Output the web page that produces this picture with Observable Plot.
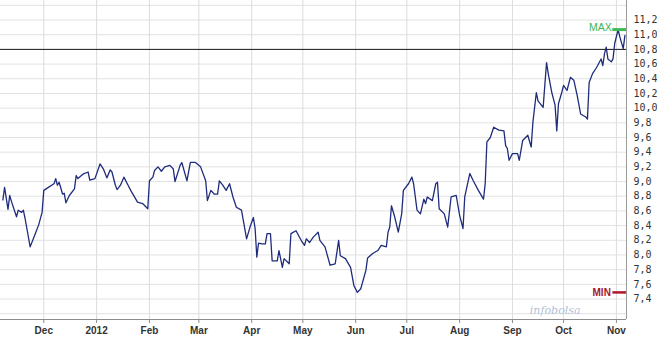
<!DOCTYPE html>
<html>
<head>
<meta charset="utf-8">
<script src="https://cdn.jsdelivr.net/npm/d3@7"></script>
<script src="https://cdn.jsdelivr.net/npm/@observablehq/plot@0.6"></script>
<style>
  html, body { margin: 0; padding: 0; background: #fff; }
  #chart svg { display: block; }
</style>
</head>
<body>
<div id="chart"></div>
<script>
// ---- data ----
const dates = [
  "2011-11-07","2011-11-08","2011-11-10","2011-11-11","2011-11-12","2011-11-15","2011-11-16","2011-11-18","2011-11-19","2011-11-20",
  "2011-11-23","2011-11-26","2011-11-28","2011-11-30","2011-12-01","2011-12-03","2011-12-07","2011-12-08","2011-12-09","2011-12-10",
  "2011-12-12","2011-12-13","2011-12-14","2011-12-16","2011-12-19","2011-12-20","2011-12-21","2011-12-24","2011-12-27","2011-12-28",
  "2011-12-31","2012-01-03","2012-01-05","2012-01-07","2012-01-09","2012-01-10","2012-01-12","2012-01-13","2012-01-15","2012-01-17",
  "2012-01-19","2012-01-21","2012-01-25","2012-01-28","2012-01-31","2012-02-01","2012-02-03","2012-02-04","2012-02-06","2012-02-08",
  "2012-02-10","2012-02-13","2012-02-15","2012-02-16","2012-02-19","2012-02-20","2012-02-23","2012-02-25","2012-02-28","2012-03-02",
  "2012-03-05","2012-03-06","2012-03-08","2012-03-10","2012-03-12","2012-03-13","2012-03-15","2012-03-17","2012-03-19","2012-03-21",
  "2012-03-23","2012-03-26","2012-03-29","2012-03-31","2012-04-02","2012-04-03","2012-04-04","2012-04-05","2012-04-07","2012-04-09",
  "2012-04-10","2012-04-12","2012-04-13","2012-04-16","2012-04-17","2012-04-19","2012-04-20","2012-04-23","2012-04-24","2012-04-27",
  "2012-04-30","2012-05-02","2012-05-03","2012-05-05","2012-05-07","2012-05-10","2012-05-11","2012-05-14","2012-05-17","2012-05-20",
  "2012-05-22","2012-05-23","2012-05-26","2012-05-29","2012-05-31","2012-06-02","2012-06-04","2012-06-07","2012-06-08","2012-06-11",
  "2012-06-14","2012-06-16","2012-06-19","2012-06-20","2012-06-21","2012-06-22","2012-06-24","2012-06-26","2012-06-28","2012-06-29",
  "2012-07-02","2012-07-04","2012-07-05","2012-07-07","2012-07-09","2012-07-11","2012-07-12","2012-07-13","2012-07-16","2012-07-18",
  "2012-07-19","2012-07-20","2012-07-23","2012-07-25","2012-07-27","2012-07-30","2012-08-01","2012-08-03","2012-08-04","2012-08-07",
  "2012-08-09","2012-08-12","2012-08-15","2012-08-16","2012-08-17","2012-08-19","2012-08-21","2012-08-24","2012-08-27","2012-08-28",
  "2012-08-29","2012-08-30","2012-09-01","2012-09-04","2012-09-05","2012-09-07","2012-09-10","2012-09-12","2012-09-13","2012-09-15",
  "2012-09-16","2012-09-19","2012-09-21","2012-09-22","2012-09-24","2012-09-26","2012-09-27","2012-09-28","2012-09-30","2012-10-01",
  "2012-10-03","2012-10-05","2012-10-07","2012-10-09","2012-10-11","2012-10-14","2012-10-15","2012-10-16","2012-10-18","2012-10-20",
  "2012-10-21","2012-10-23","2012-10-24","2012-10-25","2012-10-26","2012-10-27","2012-10-29","2012-10-30","2012-10-31","2012-11-02",
  "2012-11-03","2012-11-05","2012-11-06"
];
const prices = [
  8.75,8.92,8.62,8.81,8.73,8.52,8.61,8.58,8.61,8.50,
  8.11,8.29,8.41,8.58,8.88,8.91,8.97,9.04,8.95,8.99,
  8.83,8.84,8.71,8.81,8.90,9.08,9.04,9.10,9.13,9.02,
  9.04,9.24,9.17,9.05,9.16,9.13,8.95,8.89,8.95,9.06,
  8.97,8.88,8.72,8.70,8.63,9.01,9.06,9.15,9.20,9.14,
  9.20,9.22,9.17,9.00,9.22,9.26,9.01,9.26,9.26,9.20,
  9.01,8.74,8.88,8.83,8.83,9.01,8.95,8.88,8.97,8.79,
  8.65,8.61,8.22,8.38,8.51,8.36,7.97,8.16,8.15,8.15,
  8.29,8.29,7.92,7.92,8.06,7.83,7.95,7.88,8.29,8.33,
  8.20,8.13,8.22,8.17,8.24,8.31,8.20,8.11,7.86,7.88,
  8.20,7.99,7.95,7.83,7.58,7.49,7.54,7.79,7.96,8.02,
  8.06,8.13,8.11,8.31,8.38,8.67,8.51,8.31,8.56,8.88,
  8.97,9.06,8.97,8.61,8.56,8.76,8.70,8.79,8.74,8.97,
  8.99,8.63,8.56,8.38,8.79,8.81,8.54,8.36,8.79,9.11,
  9.01,8.88,8.76,8.97,9.54,9.60,9.74,9.70,9.69,9.49,
  9.45,9.29,9.38,9.38,9.29,9.56,9.63,9.47,9.81,10.21,
  10.10,10.01,10.62,10.47,10.22,10.04,9.69,10.06,10.22,10.31,
  10.24,10.42,10.38,10.17,9.92,9.88,9.85,10.35,10.47,10.54,
  10.58,10.67,10.58,10.74,10.83,10.67,10.63,10.67,10.88,11.07,
  10.97,10.81,10.99
];
const referenceLevel = [10.8];
const monthStarts = ["2011-12-01","2012-01-01","2012-02-01","2012-03-01","2012-04-01","2012-05-01",
                     "2012-06-01","2012-07-01","2012-08-01","2012-09-01","2012-10-01","2012-11-01"];
const monthLabels = ["Dec","2012","Feb","Mar","Apr","May","Jun","Jul","Aug","Sep","Oct","Nov"];
const yLabelTicks = [7.4,7.6,7.8,8.0,8.2,8.4,8.6,8.8,9.0,9.2,9.4,9.6,9.8,10.0,10.2,10.4,10.6,10.8,11.0,11.2];
const yGridTicks = [7.2,7.4,7.6,7.8,8.0,8.2,8.4,8.6,8.8,9.0,9.2,9.4,9.6,9.8,10.0,10.2,10.4,10.6,10.8,11.0,11.2,11.4];
const xDomain = [new Date(Date.UTC(2011, 10, 5, 14, 24)), new Date(Date.UTC(2012, 10, 6, 22, 0))];
const yDomain = [7.121, 11.466];
const watermark = ["infobolsa"];

// ---- build ----
const series = dates.map((d, i) => ({date: new Date(d), value: prices[i]}));
const ticks = monthStarts.map(d => new Date(d));
const labelFor = new Map(ticks.map((t, i) => [+t, monthLabels[i]]));
const maxVal = d3.max(prices);
const minVal = d3.min(prices);
const markerStart = d3.utcDay.offset(xDomain[1], -8);
const comma = d => d.toFixed(1).replace(".", ",");

const chart = Plot.plot({
  width: 657,
  height: 344,
  marginTop: 0,
  marginBottom: 25,
  marginLeft: 0,
  marginRight: 31,
  style: {fontFamily: "'Liberation Sans', Arial, sans-serif", background: "#fff"},
  x: {type: "utc", domain: xDomain},
  y: {domain: yDomain},
  marks: [
    Plot.gridY(yGridTicks, {stroke: "#e2e2e2", strokeOpacity: 1}),
    Plot.gridX(ticks, {stroke: "#dcdcdc", strokeOpacity: 1}),
    Plot.text(watermark, {frameAnchor: "bottom-right", dx: -46, dy: -6, fontFamily: "'DejaVu Serif', serif",
      fontStyle: "italic", fontSize: 11, fill: "#b4c0d6", textAnchor: "end"}),
    Plot.ruleY([yDomain[0]], {stroke: "#8c8c8c"}),
    Plot.ruleX([xDomain[1]], {stroke: "#9a9a9a"}),
    Plot.ruleY(referenceLevel, {stroke: "#1a1a1a", strokeWidth: 1}),
    Plot.line(series, {x: "date", y: "value", stroke: "#1f2c7c", strokeWidth: 1.3}),
    Plot.ruleY([maxVal], {x1: markerStart, x2: xDomain[1], stroke: "#3dbb55", strokeWidth: 3}),
    Plot.text([maxVal], {x: markerStart, y: d => d, text: () => "MAX", textAnchor: "end", dx: -1, dy: -2,
      fill: "#3cb54e", fontSize: 10.5}),
    Plot.ruleY([minVal], {x1: markerStart, x2: xDomain[1], stroke: "#b0172e", strokeWidth: 2.5}),
    Plot.text([minVal], {x: markerStart, y: d => d, text: () => "MIN", textAnchor: "end", dx: -2, dy: 0,
      fill: "#a8162b", fontSize: 10, fontWeight: "bold"}),
    Plot.axisX(ticks, {tickSize: 4, tickPadding: 3, stroke: "#8c8c8c", fill: "#333", label: null,
      tickFormat: d => labelFor.get(+d), fontWeight: "bold", fontSize: 10}),
    Plot.axisY(yLabelTicks, {anchor: "right", tickSize: 0, tickPadding: 7, tickFormat: comma, label: null,
      fontFamily: "'DejaVu Sans Mono', monospace", fontSize: 10, fill: "#333"})
  ]
});
document.getElementById("chart").append(chart);
</script>
</body>
</html>
